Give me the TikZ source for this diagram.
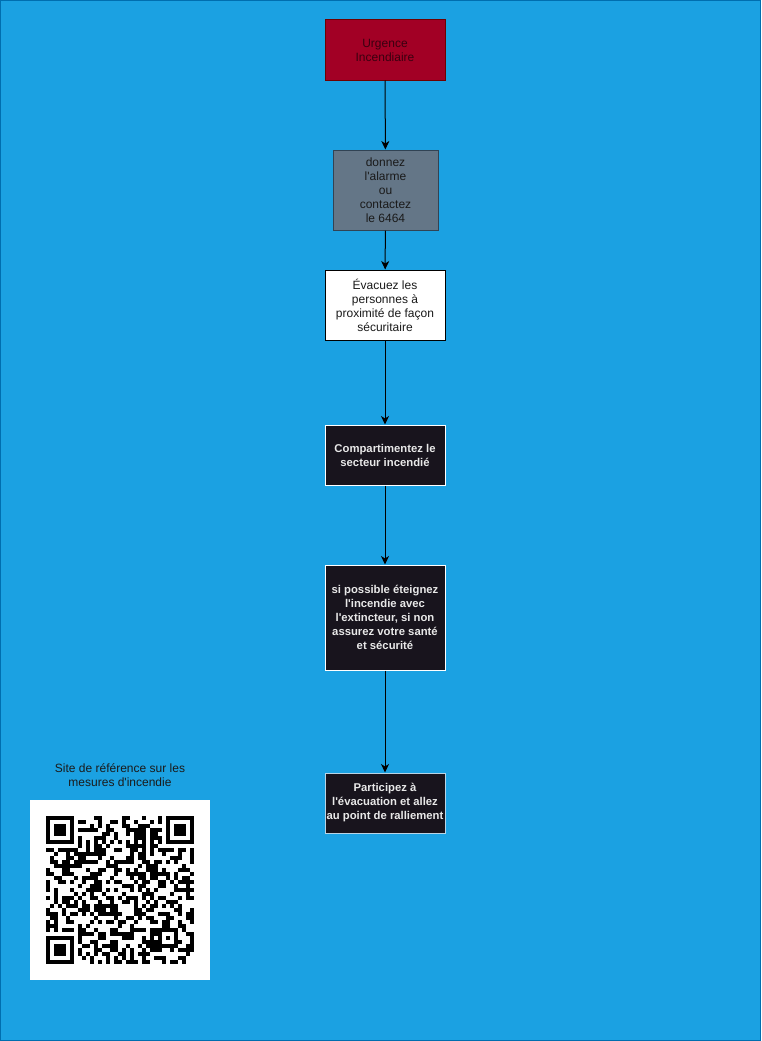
\documentclass[tikz,border=0pt]{standalone}
\usepackage{fontspec}
\setmainfont{Liberation Sans}
\usetikzlibrary{arrows.meta}
\definecolor{bgblue}{HTML}{1BA1E2}
\definecolor{bgedge}{HTML}{006EAF}
\definecolor{urgfill}{HTML}{A20025}
\definecolor{urgedge}{HTML}{6F0000}
\definecolor{urgtext}{HTML}{3A0010}
\definecolor{grayfill}{HTML}{647687}
\definecolor{grayedge}{HTML}{314354}
\definecolor{darkfill}{HTML}{18141D}
\definecolor{darktext}{HTML}{1A1A1A}
\definecolor{lighttext}{HTML}{E8E8E8}
\definecolor{paleedge}{HTML}{B8D4E6}
\newcommand{\apo}{\textquotesingle}
\begin{document}
\begin{tikzpicture}[x=1pt,y=-1pt,
  box/.style={rectangle, inner sep=0pt, align=center, line width=1pt,
    font=\fontsize{12}{14}\selectfont},
  darkbox/.style={box, fill=darkfill, draw=white, text=lighttext,
    font=\fontsize{11.3}{14}\selectfont\bfseries},
  link/.style={draw=black, line width=1pt, -{Stealth[length=8.5pt,width=8pt,inset=2.5pt]}}]
\useasboundingbox (0,0) rectangle (761,1041);
\fill[bgblue] (0,0) rectangle (761,1041);
\draw[bgedge, line width=1pt] (0.5,0.5) rectangle (760.5,1040.5);

\node[box, fill=urgfill, draw=urgedge, text=urgtext, minimum width=120pt, minimum height=60pt] (n1) at (385,50) {Urgence\\Incendiaire};
\node[box, fill=grayfill, draw=grayedge, text=darktext, minimum width=105pt, minimum height=80pt] (n2) at (385.5,190) {donnez\\l\apo alarme\\ou\\contactez\\le 6464};
\node[box, fill=white, draw=black, text=darktext, minimum width=120pt, minimum height=70pt] (n3) at (385,305) {Évacuez les\\personnes à\\proximité de façon\\sécuritaire};
\node[darkbox, minimum width=120pt, minimum height=60pt] (n4) at (385,455) {Compartimentez le\\secteur incendié};
\node[darkbox, minimum width=120pt, minimum height=105pt] (n5) at (385,617.5) {si possible éteignez\\l\apo incendie avec\\l\apo extincteur, si non\\assurez votre santé\\et sécurité};
\node[darkbox, draw=paleedge, minimum width=120pt, minimum height=60pt] (n6) at (385,803) {Participez à\\l\apo évacuation et allez\\au point de ralliement};

\draw[link] (n1) -- (n2);
\draw[link] (n2) -- (n3);
\draw[link] (n3) -- (n4);
\draw[link] (n4) -- (n5);
\draw[link] (n5) -- (n6);

\node[box, text=darktext] (cap) at (120,775) {Site de référence sur les\\mesures d\apo incendie};

% QR code
\node[rectangle, fill=white, inner sep=0pt, minimum width=180pt, minimum height=180pt] (qr) at (120,890) {};
\begin{scope}[shift={(46,816)}]
  \foreach \ox/\oy in {0/0, 120/0, 0/120} {
    \fill[black] (\ox,\oy) rectangle ++(28,28);
    \fill[white] (\ox+4,\oy+4) rectangle ++(20,20);
    \fill[black] (\ox+8,\oy+8) rectangle ++(12,12);
  }
  \fill[black] (112,112) rectangle ++(20,20);
  \fill[white] (116,116) rectangle ++(12,12);
  \fill[black] (120,120) rectangle ++(4,4);
  \foreach \k in {8,10,...,28} {
    \fill[black] (\k*4,24) rectangle ++(4,4);
    \fill[black] (24,\k*4) rectangle ++(4,4);
  }
  \pgfmathsetseed{4711}
  \foreach \i in {0,...,36} {
    \foreach \j in {0,...,36} {
      \pgfmathsetmacro\r{rnd}
      \pgfmathtruncatemacro\res{((\i<8)&&(\j<8)) || ((\i>28)&&(\j<8)) || ((\i<8)&&(\j>28)) || (\i==6) || (\j==6) || ((\i>27)&&(\i<33)&&(\j>27)&&(\j<33))}
      \ifnum\res=0
        \ifdim\r pt<0.5pt
          \fill[black] (\i*4,\j*4) rectangle ++(4,4);
        \fi
      \fi
    }
  }
\end{scope}
\end{tikzpicture}
\end{document}
